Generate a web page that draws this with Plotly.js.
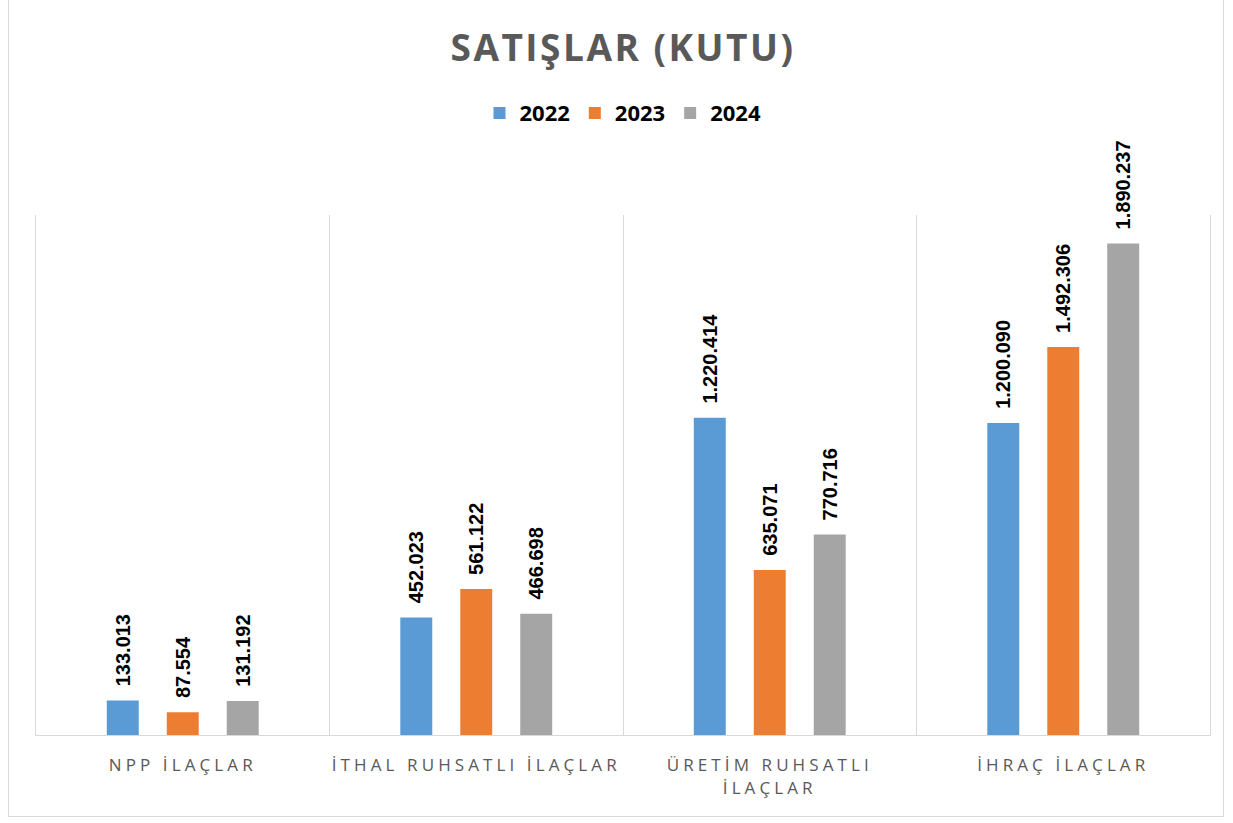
<!DOCTYPE html>
<html>
<head>
<meta charset="utf-8">
<script src="https://cdn.plot.ly/plotly-3.0.1.min.js"></script>
<style>
  html, body { margin: 0; padding: 0; background: #fff; }
  #wrap { position: relative; width: 1233px; height: 823px; }
  #chart { width: 1233px; height: 823px; }
  #frame { position: absolute; left: 8px; top: -2px; width: 1216px; height: 819px;
           border: 1px solid #d9d9d9; pointer-events: none; box-sizing: border-box; }
  .xtick text { letter-spacing: 4.1px; }
  .gtitle { letter-spacing: 2.5px; }
</style>
</head>
<body>
<div id="wrap">
  <div id="chart"></div>
  <div id="frame"></div>
</div>
<script>
const categories = ["NPP İLAÇLAR", "İTHAL RUHSATLI İLAÇLAR", "ÜRETİM RUHSATLI<br>İLAÇLAR", "İHRAÇ İLAÇLAR"];
const years = ["2022", "2023", "2024"];
const sales2022 = [133013, 452023, 1220414, 1200090];
const sales2023 = [87554, 561122, 635071, 1492306];
const sales2024 = [131192, 466698, 770716, 1890237];
const seriesValues = [sales2022, sales2023, sales2024];
const colors = ["#5B9BD5", "#ED7D31", "#A5A5A5"];

const traces = years.map((yr, i) => ({
  type: "bar",
  name: yr,
  x: categories,
  y: seriesValues[i],
  marker: { color: colors[i] },
  texttemplate: "\u00a0\u00a0%{y:,.0f}",
  textposition: "outside",
  textangle: -90,
  constraintext: "none",
  cliponaxis: false,
  textfont: { family: "Liberation Sans, Arial, sans-serif", size: 20, color: "#000000", weight: "bold" },
  hoverinfo: "x+y+name"
}));

const layout = {
  width: 1233,
  height: 823,
  separators: ",.",
  paper_bgcolor: "#ffffff",
  plot_bgcolor: "#ffffff",
  margin: { l: 36, r: 23, t: 215, b: 88 },
  title: {
    text: "SATIŞLAR (KUTU)",
    x: 0.5, xref: "paper", xanchor: "center",
    y: 0.942, yref: "container", yanchor: "middle",
    font: { family: "Open Sans, sans-serif", size: 37, color: "#595959", weight: "bold" }
  },
  barmode: "group",
  bargap: 0.387,
  bargroupgap: 0.467,
  showlegend: true,
  legend: {
    orientation: "h",
    x: 0.5, xanchor: "center",
    y: 1.196, yanchor: "middle",
    font: { family: "Open Sans, sans-serif", size: 22, color: "#000000", weight: "bold" },
    itemwidth: 30,
    traceorder: "normal"
  },
  xaxis: {
    type: "category",
    tickson: "boundaries",
    showgrid: true,
    gridcolor: "#d9d9d9",
    gridwidth: 1,
    showline: true,
    linecolor: "#d9d9d9",
    linewidth: 1,
    ticks: "",
    ticklabelstandoff: 15,
    tickfont: { family: "Open Sans, sans-serif", size: 17, color: "#595959" },
    fixedrange: true
  },
  yaxis: {
    range: [0, 2000000],
    showgrid: false,
    zeroline: false,
    showticklabels: false,
    ticks: "",
    showline: true,
    mirror: true,
    linecolor: "#d9d9d9",
    linewidth: 1,
    fixedrange: true
  }
};

Plotly.newPlot("chart", traces, layout, { displayModeBar: false, responsive: false });
</script>
</body>
</html>
